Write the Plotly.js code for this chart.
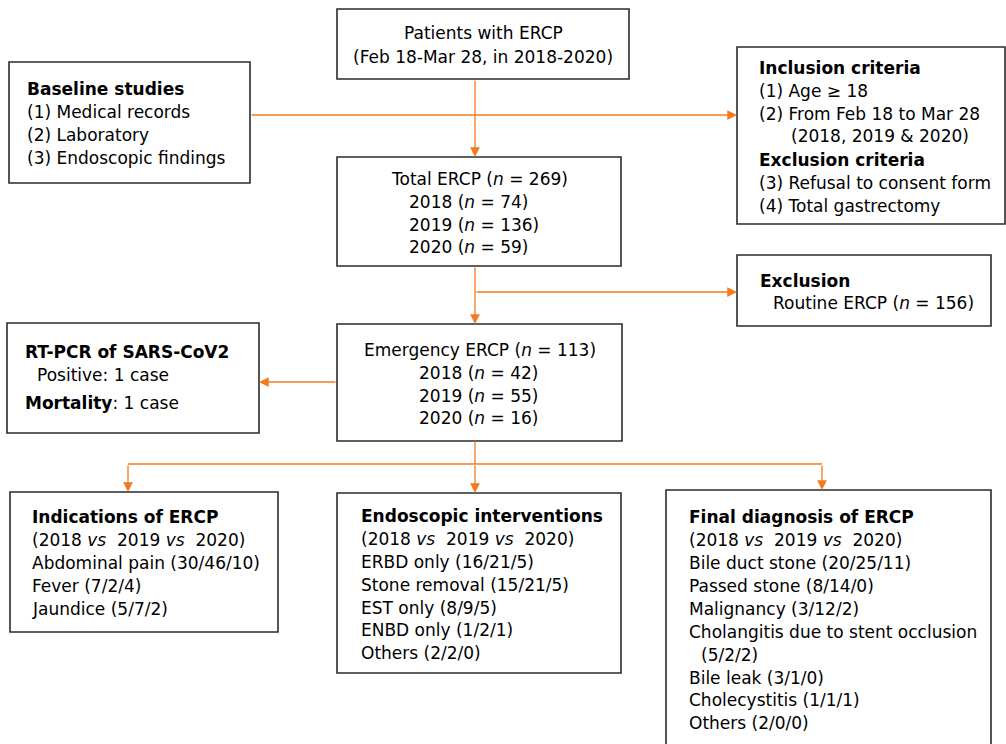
<!DOCTYPE html>
<html>
<head>
<meta charset="utf-8">
<script src="https://cdn.plot.ly/plotly-3.0.1.min.js"></script>
<style>html,body{margin:0;padding:0;background:#fff;}#chart{width:1006px;height:744px;}</style>
</head>
<body>
<div id="chart"></div>
<script>
// ---- Data (text content of the flowchart) ----
const sourceLines = ["Patients with ERCP", "(Feb 18-Mar 28, in 2018-2020)"];
const baselineTitle = "Baseline studies";
const baselineItems = ["(1) Medical records", "(2) Laboratory", "(3) Endoscopic findings"];
const inclusionTitle = "Inclusion criteria";
const inclusionItems = ["(1) Age ≥ 18", "(2) From Feb 18 to Mar 28", "(2018, 2019 & 2020)"];
const exclusionTitle = "Exclusion criteria";
const exclusionItems = ["(3) Refusal to consent form", "(4) Total gastrectomy"];
const years = ["2018", "2019", "2020"];
const totalN = 269;
const totalByYear = [74, 136, 59];
const routineN = 156;
const emergencyN = 113;
const emergencyByYear = [42, 55, 16];
const pcrTitle = "RT-PCR of SARS-CoV2";
const pcrPositive = "Positive: 1 case";
const pcrMortality = ["Mortality", ": 1 case"];
const compareLine = "(2018 <i>vs</i>  2019 <i>vs</i>  2020)";
const indicationsTitle = "Indications of ERCP";
const indicationsCats = ["Abdominal pain", "Fever", "Jaundice"];
const indicationsVals = ["30/46/10", "7/2/4", "5/7/2"];
const interventionsTitle = "Endoscopic interventions";
const interventionsCats = ["ERBD only", "Stone removal", "EST only", "ENBD only", "Others"];
const interventionsVals = ["16/21/5", "15/21/5", "8/9/5", "1/2/1", "2/2/0"];
const diagnosisTitle = "Final diagnosis of ERCP";
const diagnosisCats = ["Bile duct stone", "Passed stone", "Malignancy", "Cholangitis due to stent occlusion", "Bile leak", "Cholecystitis", "Others"];
const diagnosisVals = ["20/25/11", "8/14/0", "3/12/2", "5/2/2", "3/1/0", "1/1/1", "2/0/0"];

// ---- Layout helpers ----
const FONT = "DejaVu Sans, Verdana, sans-serif";
const FS = 17;
const ORANGE = "#f47a20";
const BORDER = "#2b2b2b";
const shapes = [];
const annotations = [];

function box(x0, y0, x1, y1) {
  shapes.push({type: "rect", xref: "x", yref: "y", x0, y0, x1, y1,
    line: {color: BORDER, width: 1.6}, fillcolor: "rgba(0,0,0,0)"});
}
function seg(x0, y0, x1, y1) {
  shapes.push({type: "line", xref: "x", yref: "y", x0, y0, x1, y1,
    line: {color: ORANGE, width: 1.3}});
}
function arrow(x0, y0, x1, y1) {
  annotations.push({x: x1, y: y1, ax: x0, ay: y0, xref: "x", yref: "y", axref: "x", ayref: "y",
    text: "", showarrow: true, arrowhead: 2, arrowsize: 1.5, arrowwidth: 1.3,
    arrowcolor: ORANGE, standoff: 0, startstandoff: 0});
}
function txt(t, x, y, anchor) {
  const a = anchor || "left";
  annotations.push({x: a === "left" ? x - 2 : x, y, xref: "x", yref: "y", text: t, showarrow: false,
    xanchor: a, yanchor: "middle",
    font: {family: FONT, size: FS, color: "#000"}});
}
const nEq = v => "(<i>n</i> = " + v + ")";

// ---- Boxes ----
box(337, 9, 629, 79);      // source
box(9, 62, 250, 183);      // baseline
box(737, 47, 1005, 224);   // criteria
box(337, 157, 621, 266);   // total
box(737, 255, 991, 326);   // exclusion
box(7, 323, 259, 433);     // RT-PCR
box(337, 324, 622, 441);   // emergency
box(10, 492, 278, 632);    // indications
box(337, 493, 621, 673);   // interventions
box(666, 490, 991, 770);   // diagnosis

// ---- Connectors ----
arrow(475, 79, 475, 157);
arrow(250, 115, 737, 115);
arrow(475, 266, 475, 324);
arrow(475, 292, 737, 292);
arrow(337, 382, 259, 382);
seg(475, 441, 475, 464);
seg(128, 464, 822, 464);
arrow(128, 464, 128, 492);
arrow(475, 464, 475, 493);
arrow(822, 464, 822, 490);

// ---- Texts ----
sourceLines.forEach((l, i) => txt(l, 483, 33 + i * 24, "center"));

txt("<b>" + baselineTitle + "</b>", 27, 89);
baselineItems.forEach((l, i) => txt(l, 27, 112 + i * 23));

txt("<b>" + inclusionTitle + "</b>", 759, 68);
inclusionItems.forEach((l, i) => txt(l, i === 2 ? 791 : 759, 91 + i * 22.7));
txt("<b>" + exclusionTitle + "</b>", 759, 160);
exclusionItems.forEach((l, i) => txt(l, 759, 183 + i * 22.5));

txt("Total ERCP " + nEq(totalN), 479.5, 179, "center");
years.forEach((y, i) => txt(y + " " + nEq(totalByYear[i]), 409, 202 + i * 22.6));

txt("<b>Exclusion</b>", 760, 281);
txt("Routine ERCP " + nEq(routineN), 773, 303);

txt("<b>" + pcrTitle + "</b>", 25, 352);
txt(pcrPositive, 37, 375);
txt("<b>" + pcrMortality[0] + "</b>" + pcrMortality[1], 25, 403);

txt("Emergency ERCP " + nEq(emergencyN), 479.5, 350, "center");
years.forEach((y, i) => txt(y + " " + nEq(emergencyByYear[i]), 419, 373 + i * 22.6));

txt("<b>" + indicationsTitle + "</b>", 32, 517);
txt(compareLine, 32, 540);
indicationsCats.forEach((c, i) => txt(c + " (" + indicationsVals[i] + ")", 32, 563 + i * 23));

txt("<b>" + interventionsTitle + "</b>", 361, 516);
txt(compareLine, 361, 539);
interventionsCats.forEach((c, i) => txt(c + " (" + interventionsVals[i] + ")", 361, 562 + i * 22.8));

txt("<b>" + diagnosisTitle + "</b>", 689, 517);
txt(compareLine, 689, 540);
let row = 0;
diagnosisCats.forEach((c, i) => {
  if (c.length > 25) {
    txt(c, 689, 563 + row * 22.9); row++;
    txt("(" + diagnosisVals[i] + ")", 701, 563 + row * 22.9); row++;
  } else {
    txt(c + " (" + diagnosisVals[i] + ")", 689, 563 + row * 22.9); row++;
  }
});

const layout = {
  width: 1006, height: 744,
  margin: {l: 0, r: 0, t: 0, b: 0},
  paper_bgcolor: "#fff", plot_bgcolor: "#fff",
  xaxis: {range: [0, 1006], visible: false, fixedrange: true},
  yaxis: {range: [744, 0], visible: false, fixedrange: true},
  showlegend: false,
  shapes, annotations
};
Plotly.newPlot("chart", [], layout, {staticPlot: true, displayModeBar: false});
</script>
</body>
</html>
